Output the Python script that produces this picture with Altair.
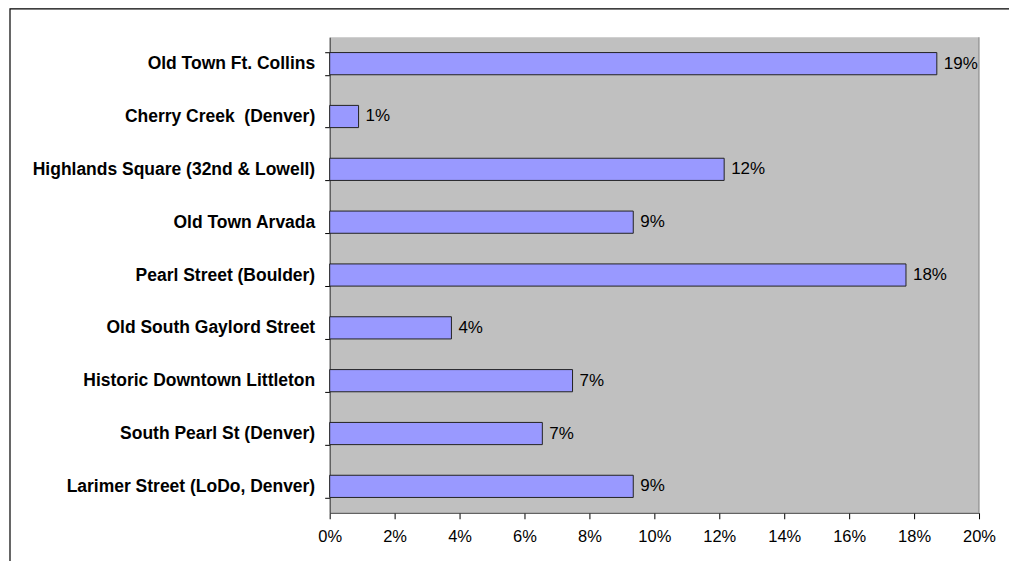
import altair as alt
import pandas as pd

categories = [
    "Old Town Ft. Collins",
    "Cherry Creek\u00a0\u00a0(Denver)",
    "Highlands Square (32nd & Lowell)",
    "Old Town Arvada",
    "Pearl Street (Boulder)",
    "Old South Gaylord Street",
    "Historic Downtown Littleton",
    "South Pearl St (Denver)",
    "Larimer Street (LoDo, Denver)",
]
values = [0.187, 0.0089, 0.1215, 0.0935, 0.1775, 0.0375, 0.0748, 0.0655, 0.0935]
x_ticks = [0, 0.02, 0.04, 0.06, 0.08, 0.10, 0.12, 0.14, 0.16, 0.18, 0.20]

df = pd.DataFrame({"cat": categories, "val": values})

FONT = "Liberation Sans"

y_enc = alt.Y(
    "cat:N",
    sort=categories,
    title=None,
    scale=alt.Scale(paddingInner=0.58, paddingOuter=0.29),
    axis=alt.Axis(
        labelFont=FONT, labelFontSize=17.5, labelFontWeight="bold", labelColor="black",
        labelPadding=10, tickSize=5, tickColor="black", tickBand="extent",
        domainColor="#333333", labelLimit=400,
    ),
)
x_enc = alt.X(
    "val:Q",
    title=None,
    scale=alt.Scale(domain=[0, 0.2], nice=False),
    axis=alt.Axis(
        values=x_ticks, format=".0%", labelFont=FONT, labelFontSize=16.5,
        labelColor="black", tickSize=6, tickColor="black", domainColor="#333333",
        labelPadding=10, labelFlush=False, grid=False,
    ),
)

bars = alt.Chart(df).mark_bar(
    fill="#9999FF", stroke="#222222", strokeWidth=1
).encode(x=x_enc, y=y_enc)

labels = alt.Chart(df).mark_text(
    align="left", baseline="middle", dx=7, font=FONT, fontSize=17, color="black"
).encode(x="val:Q", y=alt.Y("cat:N", sort=categories), text=alt.Text("val:Q", format=".0%"))

right_edge = alt.Chart(alt.Data(values=[{"v": 0.2}])).mark_rule(
    color="#808080", strokeWidth=1
).encode(x="v:Q", y=alt.value(0), y2=alt.value(476))

frame = alt.Chart(alt.Data(values=[{"a": 1}])).mark_rect(
    fill=None, stroke="black", strokeWidth=1.2, clip=False
).encode(x=alt.value(-320), x2=alt.value(1100), y=alt.value(-28.4), y2=alt.value(700))

chart = alt.layer(bars, labels, right_edge, frame).properties(
    width=650,
    height=476,
    autosize="none",
    padding={"left": 322, "top": 29, "right": 30, "bottom": 48},
    background="white",
).configure_view(fill="#C0C0C0", stroke=None)

chart.save("out.html", embed_options={"renderer": "svg", "actions": False})
